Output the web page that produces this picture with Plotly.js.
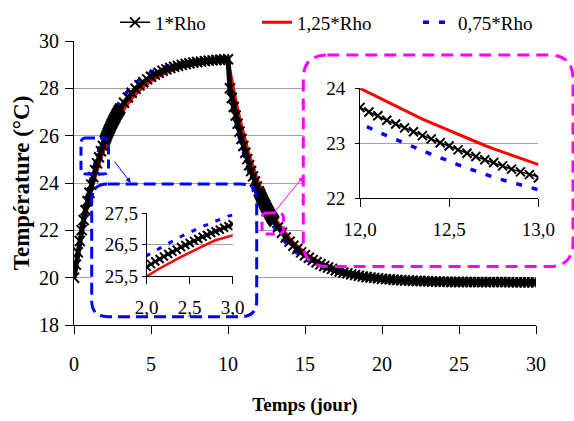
<!DOCTYPE html>
<html><head><meta charset="utf-8">
<script src="https://cdn.plot.ly/plotly-3.0.1.min.js"></script>
<style>html,body{margin:0;padding:0;background:#fff}#chart{width:574px;height:421px}</style>
</head><body><div id="chart"></div>
<script>
// ---------- data ----------
const days = [0,0.125,0.25,0.375,0.5,0.625,0.75,0.875,1,1.125,1.25,1.375,1.5,1.625,1.75,1.875,
 2,2.05,2.1,2.15,2.2,2.25,2.3,2.35,2.4,2.45,2.5,2.55,2.6,2.65,2.7,2.75,2.8,2.85,2.9,2.95,3,
 3.25,3.5,3.75,4,4.25,4.5,4.75,5,5.25,5.5,5.75,6,6.25,6.5,6.75,7,7.25,7.5,7.75,8,8.25,8.5,8.75,9,9.25,9.5,9.75,10,
 10.125,10.25,10.375,10.5,10.625,10.75,10.875,11,11.125,11.25,11.375,11.5,11.625,11.75,11.875,
 12,12.05,12.1,12.15,12.2,12.25,12.3,12.35,12.4,12.45,12.5,12.55,12.6,12.65,12.7,12.75,12.8,12.85,12.9,12.95,13,
 13.25,13.5,13.75,14,14.25,14.5,14.75,15,15.25,15.5,15.75,16,16.25,16.5,16.75,17,17.25,17.5,17.75,18,18.25,18.5,18.75,19,19.25,19.5,19.75,20,
 20.25,20.5,20.75,21,21.25,21.5,21.75,22,22.25,22.5,22.75,23,23.25,23.5,23.75,24,24.25,24.5,24.75,25,25.25,25.5,25.75,26,26.25,26.5,26.75,27,27.25,27.5,27.75,28,28.25,28.5,28.75,29,29.25,29.5,29.75,30];

const temp1Rho = [20.00,20.55,21.07,21.55,22.01,22.44,22.85,23.23,23.59,23.93,24.25,24.54,24.83,25.09,25.34,25.57,
 25.79,25.88,25.96,26.04,26.12,26.20,26.27,26.34,26.42,26.49,26.55,26.62,26.68,26.75,26.81,26.87,26.93,26.98,27.04,27.09,27.15,
 27.39,27.61,27.81,27.98,28.13,28.26,28.38,28.49,28.58,28.66,28.74,28.80,28.86,28.91,28.95,28.99,29.03,29.06,29.09,29.11,29.13,29.15,29.17,29.18,29.20,29.21,29.22,29.23,
 28.00,27.59,27.21,26.85,26.50,26.17,25.86,25.56,25.28,25.01,24.75,24.51,24.28,24.06,23.85,
 23.65,23.57,23.50,23.42,23.35,23.28,23.21,23.14,23.08,23.01,22.95,22.88,22.82,22.76,22.70,22.65,22.59,22.53,22.48,22.43,22.37,
 22.13,21.90,21.70,21.52,21.35,21.21,21.07,20.95,20.84,20.74,20.65,20.57,20.49,20.43,20.37,20.31,20.26,20.22,20.18,20.14,20.11,20.08,20.05,20.03,20.01,19.99,19.97,19.95,
 19.94,19.93,19.91,19.90,19.89,19.88,19.88,19.87,19.86,19.86,19.85,19.85,19.84,19.84,19.83,19.83,19.83,19.82,19.82,19.82,19.82,19.82,19.82,19.81,19.81,19.81,19.81,19.81,19.81,19.81,19.81,19.81,19.81,19.80,19.80,19.80,19.80,19.80,19.80,19.80];

const temp125Rho = [20.00,20.50,20.98,21.43,21.86,22.26,22.65,23.01,23.35,23.67,23.98,24.27,24.54,24.80,25.04,25.27,
 25.49,25.58,25.66,25.74,25.82,25.89,25.97,26.04,26.11,26.18,26.25,26.32,26.39,26.45,26.51,26.58,26.64,26.69,26.75,26.81,26.86,
 27.12,27.35,27.56,27.74,27.91,28.05,28.18,28.30,28.41,28.50,28.59,28.66,28.73,28.79,28.84,28.89,28.93,28.97,29.01,29.04,29.07,29.09,29.11,29.13,29.15,29.17,29.18,29.19,
 28.77,28.33,27.91,27.51,27.13,26.77,26.42,26.10,25.79,25.49,25.21,24.94,24.69,24.45,24.22,
 24.00,23.92,23.83,23.75,23.67,23.60,23.52,23.44,23.37,23.30,23.23,23.16,23.09,23.03,22.96,22.90,22.84,22.78,22.72,22.66,22.60,
 22.33,22.09,21.87,21.67,21.49,21.33,21.18,21.05,20.93,20.82,20.72,20.63,20.55,20.48,20.41,20.35,20.30,20.25,20.21,20.17,20.13,20.10,20.07,20.05,20.02,20.00,19.98,19.96,
 19.95,19.93,19.92,19.91,19.90,19.89,19.88,19.87,19.87,19.86,19.85,19.85,19.84,19.84,19.84,19.83,19.83,19.83,19.82,19.82,19.82,19.82,19.82,19.81,19.81,19.81,19.81,19.81,19.81,19.81,19.81,19.81,19.81,19.80,19.80,19.80,19.80,19.80,19.80,19.80];

const temp075Rho = [20.00,20.61,21.18,21.71,22.20,22.67,23.10,23.50,23.88,24.24,24.57,24.88,25.17,25.44,25.69,25.92,
 26.15,26.23,26.31,26.39,26.47,26.54,26.62,26.69,26.76,26.83,26.89,26.96,27.02,27.08,27.14,27.20,27.25,27.31,27.36,27.41,27.46,
 27.69,27.90,28.07,28.23,28.37,28.48,28.59,28.68,28.76,28.82,28.88,28.94,28.98,29.02,29.06,29.09,29.12,29.14,29.16,29.18,29.19,29.21,29.22,29.23,29.24,29.25,29.25,29.26,
 27.74,27.33,26.94,26.57,26.21,25.88,25.56,25.26,24.98,24.71,24.45,24.21,23.98,23.76,23.56,
 23.36,23.28,23.21,23.14,23.07,23.00,22.93,22.86,22.80,22.74,22.67,22.61,22.55,22.50,22.44,22.38,22.33,22.27,22.22,22.17,22.12,
 21.89,21.67,21.48,21.31,21.16,21.02,20.90,20.79,20.69,20.60,20.52,20.44,20.38,20.32,20.27,20.22,20.18,20.14,20.10,20.07,20.05,20.02,20.00,19.98,19.96,19.94,19.93,19.92,
 19.90,19.89,19.88,19.88,19.87,19.86,19.85,19.85,19.84,19.84,19.84,19.83,19.83,19.83,19.82,19.82,19.82,19.82,19.82,19.81,19.81,19.81,19.81,19.81,19.81,19.80,19.80,19.80,19.80,19.80,19.80,19.80,19.80,19.80,19.80,19.80,19.80,19.80,19.80,19.80];

const seriesNames = ['1*Rho', '1,25*Rho', '0,75*Rho'];
const mainXTicks = [0, 5, 10, 15, 20, 25, 30];
const mainYTicks = [18, 20, 22, 24, 26, 28, 30];
const inset1XTicks = [2, 2.5, 3];
const inset1YTicks = [25.5, 26.5, 27.5];
const inset2XTicks = [12, 12.5, 13];
const inset2YTicks = [22, 23, 24];

// ---------- geometry helpers ----------
const W = 574, H = 421;
const M = {l: 74, r: 30, t: 41, b: 96, autoexpand: false};
const PW = W - M.l - M.r, PH = H - M.t - M.b;
const xp = px => (px - M.l) / PW;           // pixel -> paper
const yp = py => (M.t + PH - py) / PH;
const MAIN_W = 462;                          // main plot width in px
const xd = px => (px - M.l) * 30 / MAIN_W;   // pixel -> main data
const yd = py => 18 + (M.t + PH - py) * 12 / PH;
function rr(x0, y0, x1, y1, r, fx, fy) {
  const P = (x, y) => fx(x).toFixed(5) + ',' + fy(y).toFixed(5);
  return 'M' + P(x0 + r, y0) + ' L' + P(x1 - r, y0) + ' Q' + P(x1, y0) + ' ' + P(x1, y0 + r) +
    ' L' + P(x1, y1 - r) + ' Q' + P(x1, y1) + ' ' + P(x1 - r, y1) +
    ' L' + P(x0 + r, y1) + ' Q' + P(x0, y1) + ' ' + P(x0, y1 - r) +
    ' L' + P(x0, y0 + r) + ' Q' + P(x0, y0) + ' ' + P(x0 + r, y0) + ' Z';
}
const BLUE = '#0000FF', RED = '#FF0000', MAG = '#FF00FF', GRID = '#A0A0A0';
const FAMILY = "'Liberation Serif', 'Times New Roman', serif";

// ---------- traces ----------
function series(xa, ya, main, mk, redW, blueW, blueDash) {
  const out = [
    {x: days, y: temp125Rho, name: seriesNames[1], xaxis: xa, yaxis: ya, mode: 'lines',
     line: {color: RED, width: redW}, showlegend: main, legendrank: 2, legendwidth: 116},
    {x: days, y: temp075Rho, name: seriesNames[2], xaxis: xa, yaxis: ya, mode: 'lines',
     line: {color: BLUE, width: blueW, dash: blueDash}, showlegend: main, legendrank: 3}
  ];
  if (main) {
    // dense band of the 1*Rho curve in the main chart
    out.push({x: days, y: temp1Rho, xaxis: xa, yaxis: ya, mode: 'lines', showlegend: false,
      line: {color: '#000', width: 5}});
  }
  out.push({x: days, y: temp1Rho, name: seriesNames[0], xaxis: xa, yaxis: ya, mode: 'lines+markers',
    line: {color: '#000', width: 1.5}, marker: {symbol: 'x-thin', size: mk, color: '#000', line: {width: 2, color: '#000'}},
    showlegend: main, legendrank: 1, legendwidth: 97});
  return out;
}
const data = [].concat(
  series('x', 'y', true, 10, 3, 3.5, '6px,10px'),
  series('x2', 'y2', false, 8, 2.5, 3, '5px,8px'),
  series('x3', 'y3', false, 9, 3, 3.5, '6px,10px')
);

// ---------- axes ----------
const tf = {family: FAMILY, color: '#000'};
function insetAxis(extra) {
  return Object.assign({showline: true, linecolor: '#000', linewidth: 1, ticks: 'outside', tickcolor: '#000',
    zeroline: false, showgrid: false, tickfont: Object.assign({size: 19}, tf), automargin: false}, extra);
}
const layout = {
  width: W, height: H, margin: M, paper_bgcolor: '#fff', plot_bgcolor: '#fff',
  font: Object.assign({size: 20}, tf), separators: ', ', hovermode: false,
  showlegend: true,
  legend: {orientation: 'h', x: xp(115), xanchor: 'left', y: yp(22.5), yanchor: 'middle',
    font: Object.assign({size: 19}, tf), bgcolor: 'rgba(0,0,0,0)', borderwidth: 0},
  xaxis: {domain: [0, MAIN_W / PW], range: [0, 30], tickvals: mainXTicks, ticks: 'outside', ticklen: 8,
    tickcolor: '#000', showline: true, linecolor: '#000', linewidth: 1, showgrid: false, zeroline: false,
    tickfont: Object.assign({size: 20}, tf), ticklabelstandoff: 13, automargin: false,
    title: {text: 'Temps (jour)', font: Object.assign({size: 19, weight: 'bold'}, tf), standoff: 23}},
  yaxis: {domain: [0, 1], range: [18, 30], tickvals: mainYTicks, ticks: 'outside', ticklen: 8,
    tickcolor: '#000', showline: true, linecolor: '#000', linewidth: 1, showgrid: true, gridcolor: GRID,
    gridwidth: 1, zeroline: false, tickfont: Object.assign({size: 20}, tf), ticklabelstandoff: 2, automargin: false,
    title: {text: 'Température (°C)', font: Object.assign({size: 23, weight: 'bold'}, tf), standoff: 2}},
  xaxis2: insetAxis({anchor: 'y2', domain: [xp(146.7), xp(232.7)], range: [2, 3], tickvals: inset1XTicks,
    tickformat: '.1f', ticklen: 7, ticklabelstandoff: 7}),
  yaxis2: insetAxis({anchor: 'x2', domain: [yp(276), yp(213.3)], range: [25.5, 27.5], tickvals: inset1YTicks,
    tickformat: '.1f', ticklen: 4, showgrid: true, gridcolor: GRID, ticklabelstandoff: 0}),
  xaxis3: insetAxis({anchor: 'y3', domain: [xp(360), xp(538.3)], range: [12, 13], tickvals: inset2XTicks,
    tickformat: '.1f', ticklen: 8, ticklabelstandoff: 6}),
  yaxis3: insetAxis({anchor: 'x3', domain: [yp(198.3), yp(88.3)], range: [22, 24], tickvals: inset2YTicks,
    ticklen: 4, showgrid: true, gridcolor: GRID, ticklabelstandoff: 6}),
  shapes: [
    // white interiors of the zoom frames (hide the main gridlines)
    {type: 'path', xref: 'x', yref: 'y', layer: 'between', path: rr(91.7, 184, 256.7, 316.7, 16, xd, yd),
     fillcolor: '#fff', line: {width: 0}},
    {type: 'path', xref: 'x', yref: 'y', layer: 'between', path: rr(303.3, 55, 573, 266.5, 24, xd, yd),
     fillcolor: '#fff', line: {width: 0}},
    // dashed frames
    {type: 'path', xref: 'paper', yref: 'paper', layer: 'above', path: rr(91.7, 184, 256.7, 316.7, 16, xp, yp),
     fillcolor: 'rgba(0,0,0,0)', line: {color: BLUE, width: 3, dash: '12px,6px'}},
    {type: 'path', xref: 'paper', yref: 'paper', layer: 'above', path: rr(303.3, 55, 573, 266.5, 24, xp, yp),
     fillcolor: 'rgba(0,0,0,0)', line: {color: MAG, width: 3, dash: '12px,7px'}},
    {type: 'path', xref: 'paper', yref: 'paper', layer: 'above', path: rr(81, 138, 108.5, 174, 5, xp, yp),
     fillcolor: 'rgba(0,0,0,0)', line: {color: BLUE, width: 3, dash: '9px,5px'}},
    {type: 'path', xref: 'paper', yref: 'paper', layer: 'above', path: rr(262, 213, 283.5, 234, 5, xp, yp),
     fillcolor: 'rgba(0,0,0,0)', line: {color: MAG, width: 3, dash: '9px,5px'}}
  ],
  annotations: [
    {xref: 'paper', yref: 'paper', x: xp(130.7), y: yp(182.7), ax: -17.4, ay: -22.7, text: '',
     showarrow: true, arrowhead: 2, arrowsize: 1, arrowwidth: 1, arrowcolor: BLUE},
    {xref: 'paper', yref: 'paper', x: xp(303.3), y: yp(176.7), ax: -30, ay: 36.6, text: '',
     showarrow: true, arrowhead: 2, arrowsize: 1, arrowwidth: 1, arrowcolor: MAG}
  ]
};
Plotly.newPlot('chart', data, layout, {staticPlot: true, displayModeBar: false});
</script></body></html>
